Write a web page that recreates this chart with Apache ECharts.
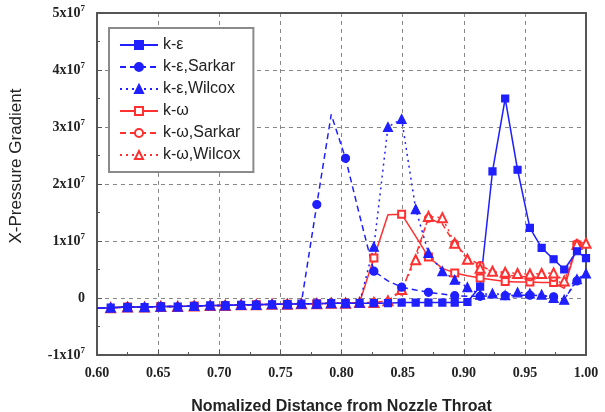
<!DOCTYPE html>
<html>
<head>
<meta charset="utf-8">
<script src="https://cdn.jsdelivr.net/npm/echarts@6/dist/echarts.min.js"></script>
<style>
  html, body { margin: 0; background: #fff; }
  #chart { width: 605px; height: 412px; }
</style>
</head>
<body>
<div id="chart"></div>
<script>
// grid positions along the nozzle (shared by all six runs)
const xPos = [0.600, 0.6112, 0.6250, 0.6389, 0.6522, 0.6660, 0.6795, 0.6926, 0.7049, 0.7179,
  0.7303, 0.7432, 0.7557, 0.7672, 0.7798, 0.7916, 0.8033, 0.8148, 0.8265, 0.8380,
  0.8492, 0.8607, 0.8711, 0.8825, 0.8926, 0.9030, 0.9134, 0.9235, 0.9339, 0.9440,
  0.9541, 0.9637, 0.9735, 0.9822, 0.9926, 1.000];

// pressure gradient, in units of 1e7
const kEps = [-0.18, -0.17, -0.16, -0.16, -0.15, -0.15, -0.14, -0.13, -0.13, -0.12,
  -0.12, -0.11, -0.11, -0.10, -0.10, -0.09, -0.09, -0.09, -0.09, -0.09,
  -0.08, -0.08, -0.08, -0.08, -0.08, -0.07, 0.20, 2.22, 3.50, 2.25,
  1.23, 0.88, 0.68, 0.50, 0.82, 0.70];
const kEpsSarkar = [-0.18, -0.17, -0.16, -0.16, -0.15, -0.15, -0.14, -0.13, -0.13, -0.12,
  -0.12, -0.11, -0.11, -0.08, 1.64, 3.22, 2.45, 1.45, 0.47, 0.30,
  0.19, 0.14, 0.10, 0.07, 0.04, 0.03, 0.03, 0.04, 0.04, 0.05,
  0.05, 0.04, 0.02, -0.02, 0.30, 0.42];
const kEpsWilcox = [-0.18, -0.17, -0.16, -0.16, -0.15, -0.15, -0.14, -0.13, -0.13, -0.12,
  -0.12, -0.11, -0.11, -0.10, -0.10, -0.09, -0.09, -0.08, 0.90, 3.00,
  3.14, 1.56, 0.79, 0.47, 0.32, 0.19, 0.06, 0.08, 0.05, 0.10,
  0.08, 0.06, 0.00, -0.03, 0.33, 0.43];
const kOmega = [-0.18, -0.17, -0.16, -0.16, -0.15, -0.15, -0.14, -0.13, -0.13, -0.12,
  -0.12, -0.11, -0.11, -0.10, -0.10, -0.09, -0.09, -0.08, 0.70, 1.46,
  1.47, 1.08, 0.72, 0.52, 0.44, 0.39, 0.35, 0.32, 0.29, 0.28,
  0.28, 0.27, 0.27, 0.17, 0.93, 0.90];
const kOmegaSarkar = [-0.18, -0.17, -0.16, -0.16, -0.15, -0.15, -0.14, -0.13, -0.13, -0.12,
  -0.12, -0.11, -0.11, -0.10, -0.10, -0.09, -0.09, -0.09, -0.08, -0.05,
  0.12, 0.75, 1.40, 1.30, 0.95, 0.72, 0.57, 0.47, 0.41, 0.38,
  0.37, 0.36, 0.36, 0.22, 0.95, 0.98];
const kOmegaWilcox = [-0.18, -0.17, -0.16, -0.16, -0.15, -0.15, -0.14, -0.13, -0.13, -0.12,
  -0.12, -0.11, -0.11, -0.10, -0.10, -0.09, -0.09, -0.08, -0.08, -0.05,
  0.15, 0.67, 1.43, 1.41, 0.96, 0.68, 0.52, 0.47, 0.45, 0.43,
  0.42, 0.43, 0.44, 0.30, 0.94, 0.96];

const SCALE = 1e7;
const names = ['k-ε', 'k-ε,Sarkar', 'k-ε,Wilcox', 'k-ω', 'k-ω,Sarkar', 'k-ω,Wilcox'];

const BLUE = '#1f1fff';
const RED = '#ff3030';

// every = 1 -> marker on each point, 2 -> on every other point
const makeSeries = (name, ys, color, symbol, size, dash, every) => ({
  name: name,
  type: 'line',
  symbol: symbol,
  symbolSize: size,
  color: color,
  lineStyle: { color: color, width: 1.5, type: dash },
  itemStyle: { color: color, borderColor: color, borderWidth: 1.2 },
  emphasis: { disabled: true },
  data: ys.map((y, i) => {
    const item = { value: [xPos[i], y * SCALE] };
    if (i === 0 || i % every !== 0) item.symbol = 'none';
    return item;
  }),
});

const series = [
  makeSeries(names[3], kOmega, RED, 'emptyRect', 7, 'solid', 2),
  makeSeries(names[4], kOmegaSarkar, RED, 'emptyCircle', 7, [6, 4], 2),
  makeSeries(names[5], kOmegaWilcox, RED, 'emptyTriangle', 9, [2, 4], 1),
  makeSeries(names[1], kEpsSarkar, BLUE, 'circle', 8, [6, 4], 2),
  makeSeries(names[0], kEps, BLUE, 'rect', 7, 'solid', 1),
  makeSeries(names[2], kEpsWilcox, BLUE, 'triangle', 9, [2, 4], 1),
];

const tickFont = { fontFamily: 'Liberation Serif', fontWeight: 'bold', fontSize: 14, color: '#222' };
const frameLine = { show: true, onZero: false, lineStyle: { color: '#555', width: 2 } };
const gridLine = { show: true, lineStyle: { color: '#888', type: [4, 4], width: 1 } };

let chart = echarts.init(document.getElementById('chart'), null, { renderer: 'canvas' });

const option = {
  animation: false,
  backgroundColor: '#fff',
  grid: { left: 97, right: 19, top: 13, bottom: 57, outerBoundsMode: 'none' },
  legend: {
    data: names,
    orient: 'vertical',
    left: 109,
    top: 28,
    backgroundColor: '#fff',
    borderColor: '#8a8a8a',
    borderWidth: 2,
    borderRadius: 0,
    padding: [9, 13, 9, 10],
    itemWidth: 38,
    itemHeight: 10,
    itemGap: 6,
    textStyle: { fontFamily: 'Liberation Sans', fontSize: 16, color: '#222' },
  },
  xAxis: [
    {
      type: 'value',
      min: 0.6,
      max: 1.0,
      interval: 0.05,
      name: 'Nomalized Distance from Nozzle Throat',
      nameLocation: 'middle',
      nameGap: 44,
      nameTextStyle: { fontFamily: 'Liberation Sans', fontWeight: 'bold', fontSize: 16, color: '#222' },
      axisLine: frameLine,
      axisTick: { show: true, inside: true, length: 5, lineStyle: { color: '#555' } },
      minorTick: { show: true, splitNumber: 2, length: 3, lineStyle: { color: '#555' } },
      axisLabel: Object.assign({ margin: 11, formatter: (v) => v.toFixed(2) }, tickFont),
      splitLine: gridLine,
    },
    {
      type: 'value', position: 'top', min: 0.6, max: 1.0,
      axisLine: frameLine, axisTick: { show: false }, axisLabel: { show: false }, splitLine: { show: false },
    },
  ],
  yAxis: [
    {
      type: 'value',
      min: -1e7,
      max: 5e7,
      interval: 1e7,
      name: 'X-Pressure Gradient',
      nameLocation: 'middle',
      nameGap: 72,
      nameTextStyle: { fontFamily: 'Liberation Sans', fontSize: 17, color: '#222', padding: [0, 0, 0, 36] },
      axisLine: frameLine,
      axisTick: { show: true, inside: true, length: 5, lineStyle: { color: '#555' } },
      minorTick: { show: true, splitNumber: 2, length: 3, lineStyle: { color: '#555' } },
      axisLabel: {
        margin: 12,
        formatter: (v) => {
          if (v === 0) return '{n|0}';
          return '{n|' + Math.round(v / SCALE) + 'x10}{s|7}';
        },
        rich: {
          n: tickFont,
          s: { fontFamily: 'Liberation Serif', fontWeight: 'bold', fontSize: 9, color: '#222', padding: [0, 0, 8, 0] },
        },
      },
      splitLine: gridLine,
    },
    {
      type: 'value', position: 'right', min: -1e7, max: 5e7,
      axisLine: frameLine, axisTick: { show: false }, axisLabel: { show: false }, splitLine: { show: false },
    },
  ],
  series: series,
};

chart.setOption(option);
window.addEventListener('resize', chart.resize);
</script>
</body>
</html>
